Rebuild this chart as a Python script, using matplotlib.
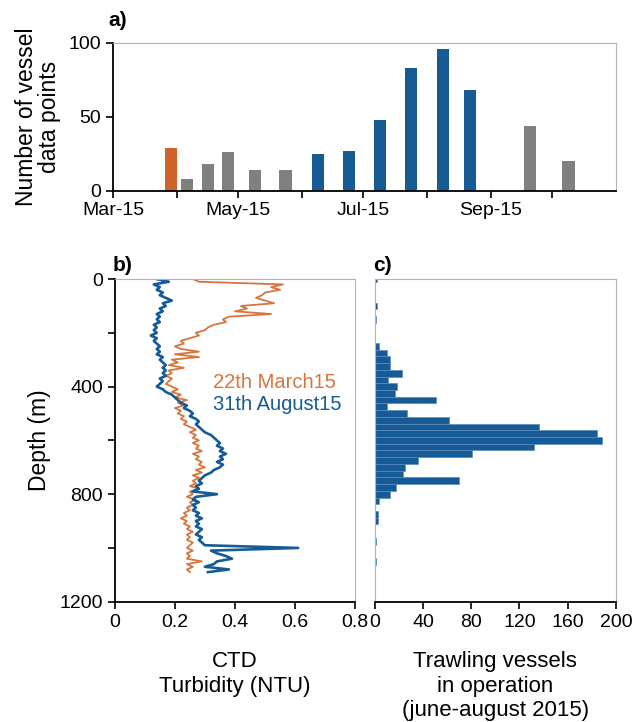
import numpy as np
import pandas as pd
import matplotlib
matplotlib.use("Agg")
from matplotlib import pyplot as plt
import matplotlib.dates as mdates

plt.rcParams['font.family'] = ['Liberation Sans', 'DejaVu Sans']

# panel a: vessel data points per survey date
bar_dates = ["2015-03-29", "2015-04-06", "2015-04-16", "2015-04-26", "2015-05-09",
             "2015-05-24", "2015-06-09", "2015-06-24", "2015-07-09", "2015-07-24",
             "2015-08-09", "2015-08-22", "2015-09-20", "2015-10-09"]
bar_values = [29, 8, 18, 26, 14, 14, 25, 27, 48, 83, 96, 68, 44, 20]
bar_groups = ["march", "other", "other", "other", "other", "other", "summer", "summer",
              "summer", "summer", "summer", "summer", "other", "other"]

# panel b: CTD turbidity profiles (NTU), read every 10 m
depth_ctd = list(range(0, 1100, 10))
turb_march = [0.26, 0.28, 0.56, 0.52, 0.55, 0.50, 0.49, 0.47, 0.50, 0.53,
              0.42, 0.44, 0.40, 0.52, 0.38, 0.36, 0.37, 0.33, 0.31, 0.30,
              0.27, 0.28, 0.25, 0.22, 0.23, 0.20, 0.22, 0.28, 0.20, 0.28,
              0.19, 0.21, 0.18, 0.23, 0.18, 0.19, 0.17, 0.19, 0.18, 0.17,
              0.19, 0.21, 0.19, 0.22, 0.20, 0.24, 0.21, 0.23, 0.20, 0.22,
              0.21, 0.23, 0.22, 0.24, 0.23, 0.25, 0.27, 0.25, 0.27, 0.26,
              0.28, 0.26, 0.28, 0.27, 0.29, 0.26, 0.28, 0.27, 0.29, 0.28,
              0.30, 0.27, 0.29, 0.26, 0.28, 0.26, 0.27, 0.25, 0.28, 0.25,
              0.26, 0.24, 0.27, 0.25, 0.26, 0.24, 0.25, 0.23, 0.24, 0.22,
              0.24, 0.23, 0.25, 0.24, 0.26, 0.24, 0.25, 0.24, 0.26, 0.25,
              0.24, 0.26, 0.24, 0.25, 0.24, 0.29, 0.24, 0.26, 0.24, 0.25]
turb_august = [0.14, 0.18, 0.13, 0.15, 0.14, 0.16, 0.15, 0.17, 0.19, 0.16,
               0.17, 0.15, 0.16, 0.14, 0.15, 0.14, 0.15, 0.13, 0.14, 0.13,
               0.14, 0.12, 0.14, 0.13, 0.14, 0.15, 0.14, 0.15, 0.14, 0.16,
               0.15, 0.16, 0.17, 0.16, 0.17, 0.16, 0.17, 0.15, 0.16, 0.15,
               0.14, 0.16, 0.17, 0.19, 0.20, 0.21, 0.22, 0.24, 0.23, 0.25,
               0.26, 0.25, 0.27, 0.28, 0.27, 0.28, 0.29, 0.30, 0.32, 0.33,
               0.34, 0.35, 0.34, 0.36, 0.35, 0.37, 0.35, 0.36, 0.34, 0.36,
               0.35, 0.33, 0.32, 0.30, 0.29, 0.28, 0.29, 0.27, 0.28, 0.26,
               0.34, 0.27, 0.26, 0.28, 0.26, 0.27, 0.26, 0.28, 0.27, 0.29,
               0.27, 0.28, 0.27, 0.29, 0.28, 0.27, 0.29, 0.28, 0.29, 0.30,
               0.61, 0.32, 0.34, 0.37, 0.39, 0.34, 0.33, 0.30, 0.38, 0.31]

# panel c: trawling vessels per 25 m depth bin (bin centre)
hist_depth = [0, 100, 150, 250, 275, 300, 325, 350, 375, 400, 425, 450, 475, 500,
              525, 550, 575, 600, 625, 650, 675, 700, 725, 750, 775, 800, 825,
              875, 900, 975, 1050]
hist_count = [2, 2, 1, 3.6, 10.5, 12.4, 12.4, 22.7, 11.3, 18.8, 16.6, 50.5, 10.4, 26.5,
              61.5, 136, 184, 188, 132, 81, 35.5, 25.5, 23.3, 69.5, 17.5, 12.7, 3.6,
              2.5, 2.5, 1.4, 1.4]

orange = "#cf6329"
blue = "#165a96"
grey = "#808080"
frame = "#b3b3b3"
group_colors = {"march": orange, "other": grey, "summer": blue}


def style_axes(ax, left_black=True):
    ax.spines['top'].set_color(frame)
    ax.spines['right'].set_color(frame)
    ax.spines['bottom'].set_color('black')
    ax.spines['bottom'].set_linewidth(1.3)
    if left_black:
        ax.spines['left'].set_color('black')
        ax.spines['left'].set_linewidth(1.3)
    else:
        ax.spines['left'].set_color(frame)
    ax.tick_params(which='both', direction='out', length=5, width=1.2, labelsize=14)


fig = plt.figure(figsize=(6.35, 7.22), dpi=100)

# ---- a) ----
ax_a = fig.add_axes([0.1784, 0.7359, 0.7912, 0.205])
dates = pd.to_datetime(bar_dates)
ax_a.bar(dates, bar_values, width=5.9, color=[group_colors[g] for g in bar_groups])
ax_a.set_xlim(pd.Timestamp("2015-03-01"), pd.Timestamp("2015-11-01"))
ax_a.set_ylim(0, 100)
ax_a.set_yticks([0, 50, 100])
ax_a.xaxis.set_major_locator(mdates.MonthLocator(bymonth=[3, 5, 7, 9]))
ax_a.xaxis.set_minor_locator(mdates.MonthLocator(bymonth=[4, 6, 8, 10]))
ax_a.xaxis.set_major_formatter(mdates.DateFormatter('%b-%y'))
style_axes(ax_a)
ax_a.set_ylabel("Number of vessel\ndata points", fontsize=16.5, linespacing=1.0, labelpad=6)
fig.text(0.170, 0.972, "a)", fontsize=15, fontweight='bold', va='center')

# ---- b) ----
ax_b = fig.add_axes([0.1806, 0.1666, 0.3789, 0.4469])
ax_b.plot(turb_march, depth_ctd, color="#d8743c", lw=1.3)
ax_b.plot(turb_august, depth_ctd, color=blue, lw=1.9)
ax_b.set_xlim(0, 0.8)
ax_b.set_ylim(1200, 0)
ax_b.set_xticks([0, 0.2, 0.4, 0.6, 0.8])
ax_b.set_xticklabels(["0", "0.2", "0.4", "0.6", "0.8"])
ax_b.set_yticks([0, 400, 800, 1200])
ax_b.set_yticks([200, 600, 1000], minor=True)
style_axes(ax_b)
ax_b.set_ylabel("Depth (m)", fontsize=16.5, labelpad=6)
ax_b.set_xlabel("CTD\nTurbidity (NTU)", fontsize=16, linespacing=1.2, labelpad=15)
ax_b.text(0.327, 383, "22th March15", color="#d8743c", fontsize=14.5, va='center')
ax_b.text(0.327, 465, "31th August15", color=blue, fontsize=14.5, va='center')
fig.text(0.177, 0.632, "b)", fontsize=15, fontweight='bold', va='center')

# ---- c) ----
ax_c = fig.add_axes([0.5901, 0.1666, 0.38, 0.4469])
ax_c.barh(hist_depth, hist_count, height=25, color=blue, edgecolor="#5a8bbf", linewidth=0.5)
ax_c.set_xlim(0, 200)
ax_c.set_ylim(1200, 0)
ax_c.set_xticks([0, 40, 80, 120, 160, 200])
ax_c.set_yticks([])
style_axes(ax_c, left_black=False)
ax_c.set_xlabel("Trawling vessels\nin operation\n(june-august 2015)", fontsize=16,
                linespacing=1.2, labelpad=15)
fig.text(0.587, 0.632, "c)", fontsize=15, fontweight='bold', va='center')

fig.savefig("out.png", dpi=100, facecolor="white")
